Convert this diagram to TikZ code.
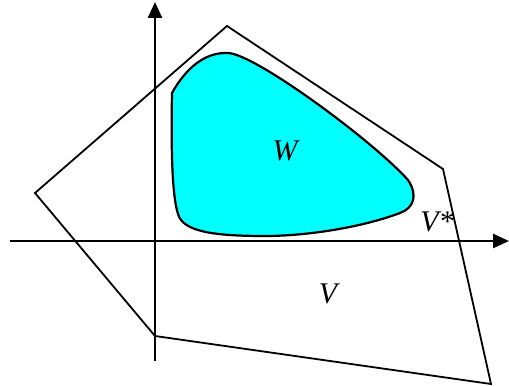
\documentclass[tikz,border=0pt]{standalone}
\usepackage{fontspec}
\setmainfont{Liberation Serif}
\usepackage{tikz}
\usetikzlibrary{arrows.meta}
\definecolor{wfill}{RGB}{0, 255, 255}

\begin{document}
\begin{tikzpicture}[
  x=1pt, y=-1pt,
  axis/.style={line width=2.5pt, -{Triangle[length=16pt, width=14pt]}},
  region/.style={line width=1.8pt, line join=miter},
  lbl/.style={font=\fontsize{30}{32}\selectfont\itshape, inner sep=0pt},
]
  \useasboundingbox (0,0) rectangle (509,387);

  % Outer polygon V
  \coordinate (pA) at (227,26);
  \coordinate (pB) at (443,169);
  \coordinate (pC) at (491,384);
  \coordinate (pD) at (155,336);
  \coordinate (pE) at (35,193);
  \draw[region] (pA) -- (pB) -- (pC) -- (pD) -- (pE) -- cycle;

  % Set W
  \draw[region, line width=2.2pt, fill=wfill] (172,93)
    .. controls (186,68) and (205,52) .. (228,53)
    .. controls (255,54) and (372,140) .. (408,180)
    .. controls (418,195) and (414,208) .. (400,213)
    .. controls (360,228) and (305,236) .. (265,236)
    .. controls (215,236) and (183,232) .. (178,214)
    .. controls (172,195) and (171,150) .. (172,93) -- cycle;

  % Axes
  \coordinate (xs) at (10,241);
  \coordinate (xe) at (509,241);
  \coordinate (ys) at (155,361);
  \coordinate (ye) at (155,2);
  \draw[axis] (xs) -- (xe);
  \draw[axis] (ys) -- (ye);

  % Labels
  \node[lbl] (lw) at (285,151) {W};
  \node[lbl] (lvs) at (437,222) {V*};
  \node[lbl] (lv) at (328,294) {V};

\end{tikzpicture}
\end{document}
